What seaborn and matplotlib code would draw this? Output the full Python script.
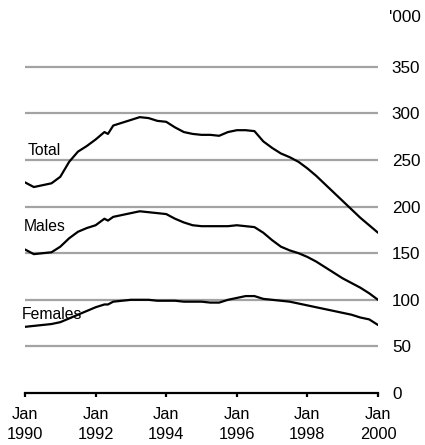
import numpy as np
import pandas as pd
import seaborn as sns
import matplotlib
matplotlib.use("Agg")
import matplotlib.pyplot as plt

# decimal years (quarterly, plus a couple of extra points for the wiggles)
years = [1990.00, 1990.25, 1990.50, 1990.75, 1991.00, 1991.25, 1991.50, 1991.75,
         1992.00, 1992.25, 1992.35, 1992.50, 1992.75, 1993.00, 1993.25, 1993.50,
         1993.75, 1994.00, 1994.25, 1994.50, 1994.75, 1995.00, 1995.25, 1995.50,
         1995.75, 1996.00, 1996.25, 1996.50, 1996.75, 1997.00, 1997.25, 1997.50,
         1997.75, 1998.00, 1998.25, 1998.50, 1998.75, 1999.00, 1999.25, 1999.50,
         1999.75, 2000.00]

total = [226, 221, 223, 225, 232, 248, 259, 265,
         272, 280, 278, 287, 290, 293, 296, 295,
         292, 291, 285, 280, 278, 277, 277, 276,
         280, 282, 282, 281, 270, 263, 257, 253,
         248, 241, 233, 224, 215, 206, 197, 188,
         180, 172]

males = [154, 149, 150, 151, 157, 166, 173, 177,
         180, 187, 185, 189, 191, 193, 195, 194,
         193, 192, 187, 183, 180, 179, 179, 179,
         179, 180, 179, 178, 172, 164, 157, 153,
         150, 146, 141, 135, 129, 123, 118, 113,
         107, 100]

females = [71, 72, 73, 74, 76, 80, 84, 88,
           92, 95, 95, 98, 99, 100, 100, 100,
           99, 99, 99, 98, 98, 98, 97, 97,
           100, 102, 104, 104, 101, 100, 99, 98,
           96, 94, 92, 90, 88, 86, 84, 81,
           79, 73]

series_labels = ["Total", "Males", "Females"]
label_pos = [(1990.08, 260), (1989.97, 179), (1989.92, 84)]
y_ticks = [0, 50, 100, 150, 200, 250, 300, 350]
x_ticks = [1990, 1992, 1994, 1996, 1998, 2000]
x_labels = ["Jan\n1990", "Jan\n1992", "Jan\n1994", "Jan\n1996", "Jan\n1998", "Jan\n2000"]

df = pd.DataFrame({
    "year": years * 3,
    "value": total + males + females,
    "series": ["Total"] * len(years) + ["Males"] * len(years) + ["Females"] * len(years),
})

sns.set_style("white")
plt.rcParams['font.family'] = ['Liberation Sans', 'DejaVu Sans']
plt.rcParams['text.color'] = 'black'
plt.rcParams['xtick.color'] = 'black'
plt.rcParams['ytick.color'] = 'black'

fig = plt.figure(figsize=(4.25, 4.45), dpi=100)
ax = fig.add_axes([25 / 425, 52 / 445, 353 / 425, 335.5 / 445])

for v in y_ticks[1:]:
    ax.axhline(v, color="#a3a3a3", lw=1.6, zorder=1)

sns.lineplot(data=df, x="year", y="value", hue="series",
             palette={"Total": "black", "Males": "black", "Females": "black"},
             lw=1.6, legend=False, ax=ax, zorder=3, estimator=None)

for name, (x, y) in zip(series_labels, label_pos):
    ax.text(x, y, name, fontsize=11.3, ha="left", va="center", zorder=2)

ax.set_xlim(1990, 2000)
ax.set_ylim(0, 360)
for s in ["top", "right", "left"]:
    ax.spines[s].set_visible(False)
ax.spines["bottom"].set_color("black")
ax.spines["bottom"].set_linewidth(1.6)

ax.set_xticks(x_ticks)
ax.set_xticklabels(x_labels, fontsize=11.8, linespacing=1.4)
ax.tick_params(axis="x", direction="out", length=3, width=1.6, color="black", pad=7,
               bottom=True)

ax.yaxis.tick_right()
ax.set_yticks(y_ticks)
ax.set_yticklabels([str(v) for v in y_ticks], fontsize=12.3)
ax.tick_params(axis="y", length=0, pad=10)
for lab in ax.get_yticklabels():
    lab.set_horizontalalignment("left")

ax.set_xlabel("")
ax.set_ylabel("")
fig.text(389 / 425, 1 - 17 / 445, "'000", fontsize=12.3, ha="left", va="center")

fig.savefig("out.png", dpi=100)
